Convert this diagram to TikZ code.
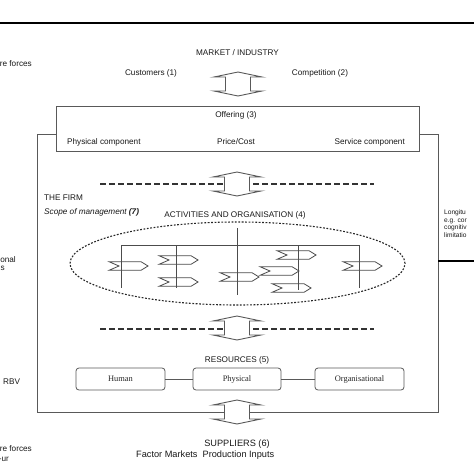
\documentclass[tikz,border=0pt]{standalone}
\usepackage{fontspec}
\setmainfont{Liberation Sans}
\newfontfamily\boxserif{Liberation Serif}
\tikzset{
  lbl/.style={font=\fontsize{8.2}{9.5}\selectfont, text=black!90, inner sep=0pt},
  biglbl/.style={font=\fontsize{9.2}{10.5}\selectfont, text=black!90, inner sep=0pt},
  tiny/.style={font=\fontsize{6.6}{7.4}\selectfont, text=black!90, inner sep=0pt, align=left},
  frameline/.style={draw=black!65, line width=0.9pt},
  thickline/.style={draw=black, line width=2pt},
  dline/.style={draw=black!80, line width=1.7pt, dash pattern=on 6pt off 3pt},
  dotline/.style={draw=black!85, line width=1.1pt, dash pattern=on 1.8pt off 1.6pt},
  orgline/.style={draw=black!70, line width=0.8pt},
  rbox/.style={draw=black!65, line width=0.8pt, rounded corners=3pt, minimum width=89pt, minimum height=22pt, inner sep=0pt, font=\boxserif\fontsize{8.4}{9}\selectfont, text=black!85},
  offerbox/.style={draw=black!65, line width=0.9pt, minimum width=363pt, minimum height=45pt, inner sep=0pt},
  darrow/.pic={\filldraw[fill=white, draw=black!65, line width=0.9pt]
     (0,-12) -- (24,-7) -- (12.5,-7) -- (12.5,7) -- (24,7) -- (0,12)
     -- (-24,7) -- (-12.5,7) -- (-12.5,-7) -- (-24,-7) -- cycle;},
  chev/.pic={\draw[orgline]
     (0,-4.3) -- (32,-4.3) -- (39,0) -- (32,4.3) -- (0,4.3) -- (10,0) -- cycle;}
}
\begin{document}
\begin{tikzpicture}[x=1pt,y=-1pt]
\useasboundingbox[fill=white] (0,0) rectangle (474,474);

% top rule
\draw[thickline] (0,22.5) -- (474,22.5);

% market
\node[lbl] (market) at (237.5,53) {MARKET / INDUSTRY};
\node[lbl] (cust) at (151,73) {Customers (1)};
\node[lbl] (comp) at (320,73) {Competition (2)};
\pic at (238,84) {darrow};

% offering
\node[offerbox] (offer) at (237.5,128.5) {};
\node[lbl] (offtitle) at (236,115) {Offering (3)};
\node[lbl, anchor=west] (phys) at (67,142) {Physical component};
\node[lbl] (price) at (236,142) {Price/Cost};
\node[lbl, anchor=east] (serv) at (405,142) {Service component};

% firm frame
\draw[frameline] (56,134) -- (37,134) -- (37,412) -- (438,412) -- (438,134) -- (419,134);
\draw[thickline] (438,261) -- (474,261);

% dashed separators and arrows
\coordinate (d1a) at (100,184); \coordinate (d1b) at (374,184);
\coordinate (d2a) at (100,329); \coordinate (d2b) at (374,329);
\draw[dline] (d1a) -- (d1b);
\draw[dline] (d2a) -- (d2b);
\pic at (237,184) {darrow};
\pic at (237,328) {darrow};
\pic at (237,412) {darrow};

% firm labels
\node[lbl, anchor=west] (firm) at (44,198) {THE FIRM};
\node[lbl, anchor=west] (scope) at (44,212) {\itshape Scope of management \textbf{(7)}};
\node[lbl] (act) at (235,215) {ACTIVITIES AND ORGANISATION (4)};

% ellipse
\draw[dotline] (237.5,263.5) ellipse [x radius=167.5pt, y radius=41.5pt];

% org chart
\draw[orgline] (121,245) -- (359,245);
\draw[orgline] (237,228) -- (237,295);
\draw[orgline] (121,245) -- (121,288);
\draw[orgline] (176,245) -- (176,288);
\draw[orgline] (298,245) -- (298,290);
\draw[orgline] (359,245) -- (359,288);
\pic at (109,266) {chev};
\pic at (159,260) {chev};
\pic at (159,282) {chev};
\pic at (220,277) {chev};
\pic at (277,255) {chev};
\pic at (260,271) {chev};
\pic at (272,288) {chev};
\pic at (343,266) {chev};

% resources
\node[lbl] (res) at (237,360) {RESOURCES (5)};
\node[rbox] (human) at (120.5,379) {Human};
\node[rbox, minimum width=88pt] (physres) at (237,379) {Physical};
\node[rbox] (orgres) at (359.5,379) {Organisational};
\draw[frameline, line width=0.8pt] (human) -- (physres);
\draw[frameline, line width=0.8pt] (physres) -- (orgres);

% suppliers
\node[biglbl] (supp) at (237,444) {SUPPLIERS (6)};
\node[biglbl, anchor=west] (factor) at (136,455.5) {Factor Markets\ \ Production Inputs};

% right margin text
\node[tiny, anchor=north west] (longi) at (444,210) {Longitu\\e.g. cor\\cognitiv\\limitatio};

% left margin text
\node[lbl, anchor=east] (l1) at (32,64) {re forces};
\node[lbl, anchor=east] (l2) at (16,260) {onal};
\node[lbl, anchor=east] (l2b) at (5,268) {s};
\node[lbl, anchor=west] (rbv) at (3,382) {RBV};
\node[lbl, anchor=east] (l3) at (32,449) {re forces};
\node[lbl, anchor=east] (l4) at (9,459) {-ur};
\end{tikzpicture}
\end{document}
